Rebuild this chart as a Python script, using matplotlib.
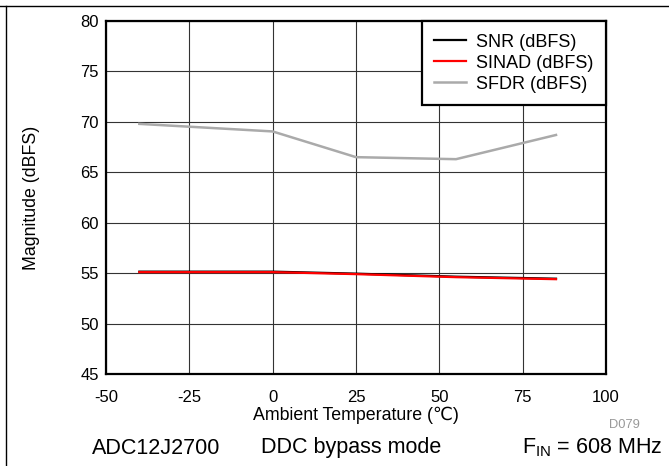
import matplotlib
matplotlib.use("Agg")
import matplotlib.pyplot as plt
from matplotlib.lines import Line2D

plt.rcParams['font.family'] = ['Liberation Sans', 'DejaVu Sans']
plt.rcParams['axes.unicode_minus'] = False

temps = [-40, 0, 25, 55, 85]
snr = [55.15, 55.15, 54.95, 54.65, 54.45]
sinad = [55.1, 55.1, 54.9, 54.6, 54.4]
sfdr = [69.8, 69.05, 66.5, 66.3, 68.7]
xticks = [-50, -25, 0, 25, 50, 75, 100]
yticks = [45, 50, 55, 60, 65, 70, 75, 80]

fig = plt.figure(figsize=(6.69, 4.66), dpi=100)
ax = fig.add_axes([106/669, 1-374/466, 500/669, 353/466])

ax.plot(temps, snr, color='black', lw=1.6, label='SNR (dBFS)')
ax.plot(temps, sinad, color='#ff0000', lw=1.6, label='SINAD (dBFS)')
ax.plot(temps, sfdr, color='#aaaaaa', lw=1.8, label='SFDR (dBFS)')

ax.set_xlim(-50, 100)
ax.set_ylim(45, 80)
ax.set_xticks(xticks)
ax.set_yticks(yticks)
ax.grid(True, color='#333333', lw=0.8)
ax.set_axisbelow(True)
ax.tick_params(length=0, labelsize=12)
ax.tick_params(axis='x', pad=11.5)
ax.tick_params(axis='y', pad=5)
for s in ax.spines.values():
    s.set_linewidth(1.6)

ax.set_xlabel('Ambient Temperature (\u2103)', fontsize=12.8)
ax.xaxis.set_label_coords(0.5, (1 - 415/466 - (1-374/466)) / (353/466), transform=ax.transAxes)
ax.set_ylabel('Magnitude (dBFS)', fontsize=12.8)
ax.yaxis.set_label_coords((31 - 106) / 500, 0.5)
ax.yaxis.label.set_va('center')
ax.xaxis.label.set_va('center')

leg = ax.legend(loc='upper right', fontsize=13, frameon=True, fancybox=False,
                borderaxespad=0, handlelength=1.75, handletextpad=0.55, borderpad=0.7,
                labelspacing=0.22, framealpha=1)
leg.get_frame().set_edgecolor('black')
leg.get_frame().set_linewidth(1.6)

fig.add_artist(Line2D([0, 1], [1-6/466, 1-6/466], color='black', lw=1, transform=fig.transFigure))
fig.add_artist(Line2D([6/669, 6/669], [0, 1-6/466], color='black', lw=1, transform=fig.transFigure))

fig.text(640/669, 1-425/466, 'D079', fontsize=9.3, color='#999999', ha='right', va='center')
fig.text(156/669, 1-448/466, 'ADC12J2700', fontsize=15.5, ha='center', va='center')
fig.text(351/669, 1-448/466, 'DDC bypass mode', fontsize=15.5, ha='center', va='center')
fig.text(662/669, 1-448/466, r'F$_{\mathregular{IN}}$ = 608 MHz', fontsize=15.5, ha='right', va='center')

fig.savefig('out.png', dpi=100)
